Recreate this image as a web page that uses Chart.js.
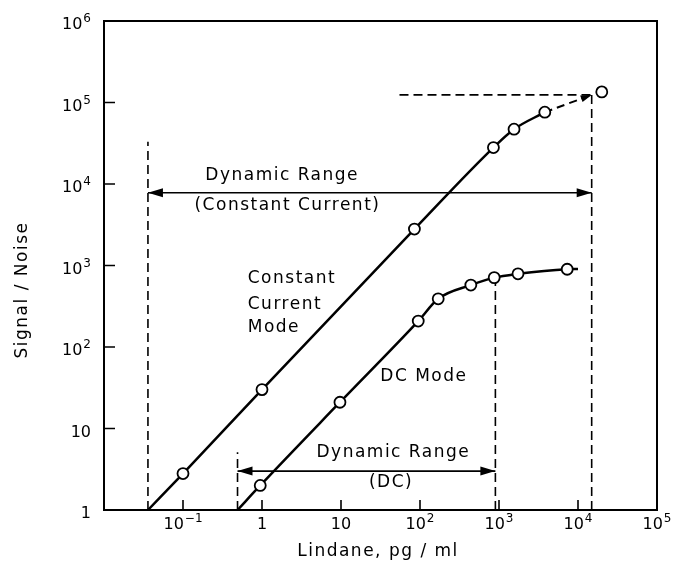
<!DOCTYPE html>
<html>
<head>
<meta charset="utf-8">
<script src="https://cdn.jsdelivr.net/npm/chart.js@4.4.0/dist/chart.umd.min.js"></script>
<style>
  html, body { margin: 0; background: #fff; }
  #wrap { width: 674px; height: 566px; }
</style>
</head>
<body>
<div id="wrap"><canvas id="chart"></canvas></div>
<script>
// ===== Данные =====
const xTicks = [0.1, 1, 10, 100, 1000, 10000, 100000];
const yTicks = [1, 10, 100, 1000, 10000, 100000, 1000000];

// Constant Current mode
const ccX = [0.1, 1, 85, 850, 1550, 3800, 20000];
const ccY = [2.8, 30, 2800, 28000, 47000, 76000, 135000];
const ccFitX = [0.036, 0.1, 1, 85, 850, 1550, 3800];
const ccFitY = [1, 2.8, 30, 2800, 28000, 47000, 76000];
const ccExtX = [3800, 14900];
const ccExtY = [76000, 124000];

// DC mode
const dcX = [0.95, 9.7, 95, 170, 440, 870, 1740, 7300];
const dcY = [2, 21, 208, 390, 575, 710, 790, 900];
const dcFitX = [0.49, 0.95, 9.7, 95, 170, 440, 870, 1740, 7300, 10000];
const dcFitY = [1, 2, 21, 208, 390, 575, 710, 790, 900, 905];

// Dynamic range guides
const ccRangeX = [0.036, 14900];
const ccRangeY = [7800, 7800];
const ccLeftX = [0.036, 0.036];
const ccLeftY = [1, 33000];
const ccRightX = [14900, 14900];
const ccRightY = [1, 124000];
const ccTopX = [55, 14900];
const ccTopY = [124000, 124000];

const dcRangeX = [0.49, 900];
const dcRangeY = [3, 3];
const dcLeftX = [0.49, 0.49];
const dcLeftY = [1, 5.1];
const dcRightX = [900, 900];
const dcRightY = [1, 700];

const FONT = '"DejaVu Sans", sans-serif';

function pts(xs, ys) {
    return xs.map((x, i) => ({ x: x, y: ys[i] }));
}

function lineSet(xs, ys, width, dash, extra) {
    return Object.assign({
        data: pts(xs, ys),
        showLine: true,
        borderColor: '#000',
        borderWidth: width,
        borderDash: dash || [],
        pointRadius: 0,
        order: 2
    }, extra || {});
}

function markerSet(xs, ys) {
    return {
        data: pts(xs, ys),
        showLine: false,
        pointRadius: 5.5,
        pointBorderWidth: 1.8,
        pointBackgroundColor: '#fff',
        pointBorderColor: '#000',
        order: 0
    };
}

function arrowHead(ctx, x, y, dx, dy, len, half) {
    const bx = x - dx * len, by = y - dy * len;
    ctx.beginPath();
    ctx.moveTo(x, y);
    ctx.lineTo(bx - dy * half, by + dx * half);
    ctx.lineTo(bx + dy * half, by - dx * half);
    ctx.closePath();
    ctx.fill();
}

// подпись степени десяти: "10" + поднятый показатель
function powLabel(ctx, v, x, y, align) {
    const e = Math.round(Math.log10(v));
    const base = e === 0 ? '1' : '10';
    const exp = (e === 0 || e === 1) ? '' : (e < 0 ? '−' + (-e) : String(e));
    ctx.font = '16px ' + FONT;
    const bw = ctx.measureText(base).width;
    ctx.font = '12px ' + FONT;
    const ew = exp ? ctx.measureText(exp).width + 1 : 0;
    const w = bw + ew;
    const left = align === 'right' ? x - w : x - w / 2;
    ctx.textAlign = 'left';
    ctx.textBaseline = 'alphabetic';
    ctx.font = '16px ' + FONT;
    ctx.fillText(base, left, y);
    if (exp) {
        ctx.font = '12px ' + FONT;
        ctx.fillText(exp, left + bw + 1, y - 7);
    }
}

// Рамка, внутренние засечки, подписи делений, стрелки и тексты
const decorPlugin = {
    id: 'decor',
    beforeDatasetsDraw(chart) {
        const ctx = chart.ctx;
        const a = chart.chartArea;
        const xs = chart.scales.x, ys = chart.scales.y;
        ctx.save();
        ctx.strokeStyle = '#000';
        ctx.lineWidth = 2;
        ctx.strokeRect(a.left, a.top, a.right - a.left, a.bottom - a.top);
        ctx.lineWidth = 1.6;
        ctx.beginPath();
        xTicks.forEach(v => {
            const px = xs.getPixelForValue(v);
            ctx.moveTo(px, a.bottom);
            ctx.lineTo(px, a.bottom - 10);
        });
        yTicks.forEach(v => {
            const py = ys.getPixelForValue(v);
            ctx.moveTo(a.left, py);
            ctx.lineTo(a.left + 11, py);
        });
        ctx.stroke();

        ctx.fillStyle = '#000';
        xTicks.forEach(v => powLabel(ctx, v, xs.getPixelForValue(v), a.bottom + 19, 'center'));
        yTicks.forEach(v => powLabel(ctx, v, a.left - 13, ys.getPixelForValue(v) + 8, 'right'));
        ctx.restore();
    },
    afterDatasetsDraw(chart) {
        const ctx = chart.ctx;
        const xs = chart.scales.x, ys = chart.scales.y;
        ctx.save();
        ctx.fillStyle = '#000';

        // стрелки диапазонов
        [chart.getDatasetMeta(2), chart.getDatasetMeta(3)].forEach(meta => {
            const p0 = meta.data[0], p1 = meta.data[1];
            arrowHead(ctx, p0.x, p0.y, -1, 0, 15, 4.5);
            arrowHead(ctx, p1.x, p1.y, 1, 0, 15, 4.5);
        });
        // стрелка на пунктирном продолжении
        const ext = chart.getDatasetMeta(5).data;
        const ex = ext[1].x - ext[0].x, ey = ext[1].y - ext[0].y;
        const el = Math.hypot(ex, ey);
        arrowHead(ctx, ext[1].x, ext[1].y, ex / el, ey / el, 11, 3.5);

        // подписи
        ctx.font = '17px ' + FONT;
        ctx.letterSpacing = '1.5px';
        ctx.textBaseline = 'middle';
        const text = (s, x, y, align) => {
            ctx.textAlign = align || 'center';
            ctx.fillText(s, xs.getPixelForValue(x), ys.getPixelForValue(y));
        };
        text('Dynamic Range', 1.8, 12600);
        text('(Constant Current)', 2.1, 5400);
        text('Constant', 0.66, 700, 'left');
        text('Current', 0.66, 330, 'left');
        text('Mode', 0.66, 171, 'left');
        text('DC Mode', 112, 43);
        text('Dynamic Range', 46, 5.0);
        text('(DC)', 43, 2.2);

        // подписи осей
        ctx.textAlign = 'center';
        ctx.fillText('Lindane, pg / ml', 378, 552);
        ctx.translate(23, 290);
        ctx.rotate(-Math.PI / 2);
        ctx.fillText('Signal / Noise', 0, 0);
        ctx.restore();
    }
};

const ctx = document.getElementById('chart').getContext('2d');
new Chart(ctx, {
    type: 'scatter',
    data: {
        datasets: [
            markerSet(ccX, ccY),                                    // 0
            markerSet(dcX, dcY),                                    // 1
            lineSet(ccRangeX, ccRangeY, 1.6),                       // 2
            lineSet(dcRangeX, dcRangeY, 1.6),                       // 3
            lineSet(ccFitX, ccFitY, 2.5, null, { cubicInterpolationMode: 'monotone' }), // 4
            lineSet(ccExtX, ccExtY, 2, [8, 5], { tension: 0.2 }),   // 5
            lineSet(dcFitX, dcFitY, 2.5, null, { cubicInterpolationMode: 'monotone' }), // 6
            lineSet(ccLeftX, ccLeftY, 1.6, [9, 5]),
            lineSet(ccRightX, ccRightY, 1.6, [9, 5]),
            lineSet(ccTopX, ccTopY, 1.6, [9, 5]),
            lineSet(dcLeftX, dcLeftY, 1.6, [9, 5]),
            lineSet(dcRightX, dcRightY, 1.6, [9, 5])
        ]
    },
    options: {
        responsive: true,
        maintainAspectRatio: false,
        animation: false,
        devicePixelRatio: 1,
        layout: { padding: { left: 0, top: 21, right: 17, bottom: 0 } },
        plugins: {
            legend: { display: false },
            tooltip: { enabled: false }
        },
        scales: {
            x: {
                type: 'logarithmic',
                min: 0.01,
                max: 100000,
                grid: { display: false, drawTicks: false },
                border: { display: false },
                afterBuildTicks: s => { s.ticks = xTicks.map(v => ({ value: v })); },
                afterFit: s => { s.height = 56; },
                ticks: { display: false }
            },
            y: {
                type: 'logarithmic',
                min: 1,
                max: 1000000,
                grid: { display: false, drawTicks: false },
                border: { display: false },
                afterBuildTicks: s => { s.ticks = yTicks.map(v => ({ value: v })); },
                afterFit: s => { s.width = 104; },
                ticks: { display: false }
            }
        }
    },
    plugins: [decorPlugin]
});
</script>
</body>
</html>
